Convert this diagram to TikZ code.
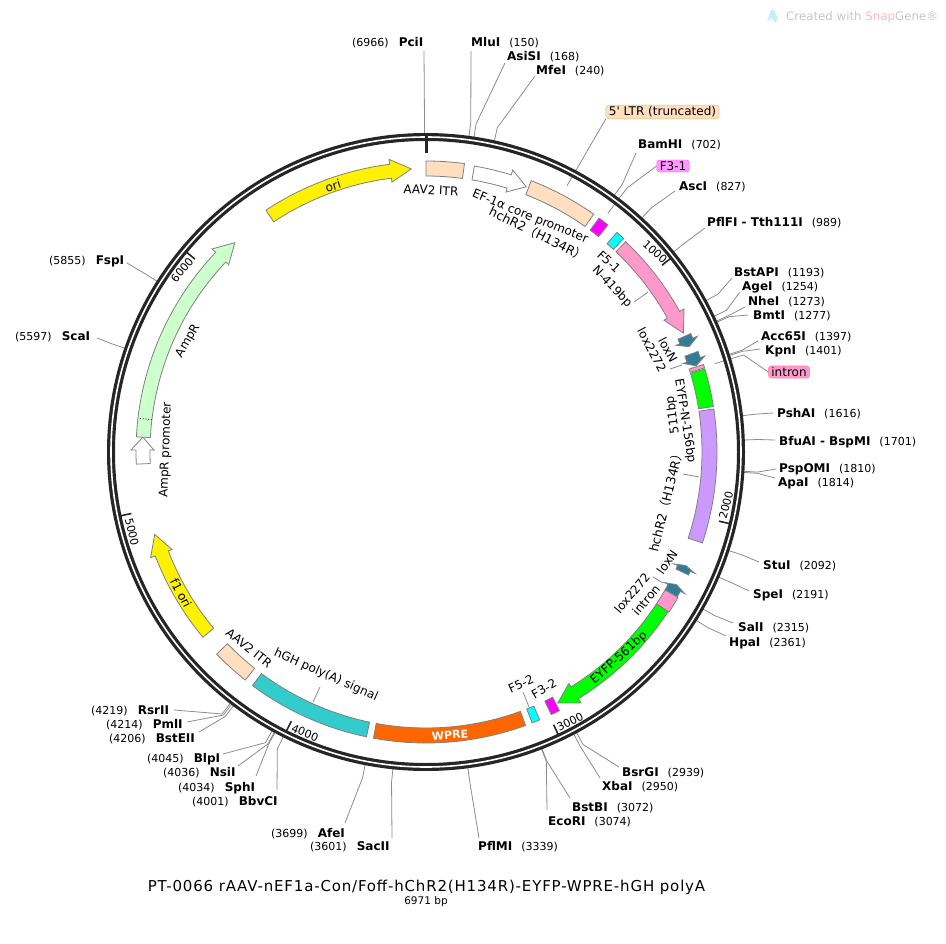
\documentclass[tikz,border=0pt]{standalone}
\usepackage{fontspec}
\usepackage{xcolor}
\setmainfont{DejaVu Sans}
\newfontfamily\cjk{Noto Sans CJK SC}
\newfontfamily\straight{DejaVu Sans}

\definecolor{peach}{HTML}{FFDFBF}
\definecolor{magentafeat}{HTML}{FF00FF}
\definecolor{cyanfeat}{HTML}{00FFFF}
\definecolor{pinkfeat}{HTML}{FF99CC}
\definecolor{greenfeat}{HTML}{00FF00}
\definecolor{purplefeat}{HTML}{CC99FF}
\definecolor{loxteal}{HTML}{317D97}
\definecolor{polyteal}{HTML}{33CCCC}
\definecolor{wpreorange}{HTML}{FF6600}
\definecolor{ampgreen}{HTML}{CCFFCC}
\definecolor{ringgray}{HTML}{262626}

\tikzset{
    sitelabel/.style={anchor=west, inner sep=0pt, font=\fontsize{11}{13}\selectfont},
    featlabel/.style={inner sep=0pt, font=\fontsize{12}{14}\selectfont},
    widelabel/.style={inner sep=0pt, font=\fontsize{12.5}{14}\selectfont},
    leader/.style={draw=black!45, line width=0.8pt},
    featline/.style={draw=black!50, line width=0.8pt},
    ticklabel/.style={inner sep=0pt, font=\fontsize{11}{13}\selectfont},
    tagbox/.style={draw, rounded corners=3pt, inner xsep=3pt, inner ysep=1.5pt, font=\fontsize{12}{14}\selectfont}
}

% bold enzyme name
\newcommand{\enz}[1]{{\fontsize{12}{13}\bfseries\selectfont #1}}
% enzyme site: id, x, y, text, angle, free end of the leader
\newcommand{\site}[6]{
    \node[sitelabel] (#1) at (#2,-#3) {#4};
    \coordinate (#1-ring) at ([shift={({90-#5}:316)}]c);
    \coordinate (#1-bend) at ([shift={({90-#5}:332)}]c);
    \coordinate (#1-end) at #6;
    \draw[leader] (#1-ring) -- (#1-bend) -- (#1-end);
}
% plain block: colour, from angle, to angle
\newcommand{\block}[3]{
    \draw[featline, fill=#1] ({90-#2}:276) arc[start angle={90-#2}, end angle={90-#3}, radius=276]
        -- ({90-#3}:291) arc[start angle={90-#3}, end angle={90-#2}, radius=291] -- cycle;
}
% arrow: colour, tail, head base, tip
\newcommand{\pointer}[4]{
    \draw[featline, fill=#1] ({90-#2}:276) arc[start angle={90-#2}, end angle={90-#3}, radius=276]
        -- ({90-#3}:272) -- ({90-#4}:283.5) -- ({90-#3}:295) -- ({90-#3}:290)
        arc[start angle={90-#3}, end angle={90-#2}, radius=290] -- cycle;
}
% scale mark: angle
\newcommand{\scalemark}[1]{
    \draw[ringgray, line width=1.6pt] ({90-#1}:312) -- ({90-#1}:301);
}

\begin{document}
\begin{tikzpicture}[x=1pt, y=1pt]
    \useasboundingbox (0,0) rectangle (946,-944);
    \coordinate (c) at (426,-452);

    % enzyme sites, clockwise from the top
    \site{pciI}{352}{43}{(6966)\hspace{10pt}\enz{PciI}}{359.74}{(424,-51)}
    \site{mluI}{471}{43}{\enz{MluI}\hspace{9pt}(150)}{7.75}{(471,-51)}
    \site{asiSI}{507}{57}{\enz{AsiSI}\hspace{9pt}(168)}{8.68}{(505,-63)}
    \site{mfeI}{536}{71}{\enz{MfeI}\hspace{9pt}(240)}{12.4}{(535,-76)}
    \site{bamHI}{638}{145}{\enz{BamHI}\hspace{9pt}(702)}{36.25}{(636,-153)}
    \site{ascI}{679}{187}{\enz{AscI}\hspace{9pt}(827)}{42.7}{(675,-191)}
    \site{tth}{707}{223}{\enz{PflFI - Tth111I}\hspace{9pt}(989)}{51.07}{(705,-228)}
    \site{bstAPI}{734}{273}{\enz{BstAPI}\hspace{9pt}(1193)}{61.6}{(732,-278)}
    \site{ageI}{742}{287}{\enz{AgeI}\hspace{9pt}(1254)}{64.76}{(740,-292)}
    \site{nheI}{748}{302}{\enz{NheI}\hspace{9pt}(1273)}{65.74}{(745,-307)}
    \site{bmtI}{753}{316}{\enz{BmtI}\hspace{9pt}(1277)}{65.95}{(748,-315)}
    \site{accI}{761}{337}{\enz{Acc65I}\hspace{9pt}(1397)}{72.15}{(758,-341)}
    \site{kpnI}{765}{351}{\enz{KpnI}\hspace{9pt}(1401)}{72.35}{(760,-349)}
    \site{pshAI}{777}{414}{\enz{PshAI}\hspace{9pt}(1616)}{83.45}{(773,-413)}
    \site{bfuAI}{779}{442}{\enz{BfuAI - BspMI}\hspace{9pt}(1701)}{87.84}{(775,-440)}
    \site{pspOMI}{779}{469}{\enz{PspOMI}\hspace{9pt}(1810)}{93.47}{(776,-469)}
    \site{apaI}{778}{483}{\enz{ApaI}\hspace{9pt}(1814)}{93.68}{(775,-478)}
    \site{stuI}{763}{566}{\enz{StuI}\hspace{9pt}(2092)}{108.04}{(759,-562)}
    \site{speI}{753}{595}{\enz{SpeI}\hspace{9pt}(2191)}{113.15}{(749,-591)}
    \site{salI}{738}{628}{\enz{SalI}\hspace{9pt}(2315)}{119.55}{(733,-623)}
    \site{hpaI}{729}{643}{\enz{HpaI}\hspace{9pt}(2361)}{121.93}{(726,-636)}
    \site{bsrGI}{622}{773}{\enz{BsrGI}\hspace{9pt}(2939)}{151.78}{(619,-767)}
    \site{xbaI}{602}{787}{\enz{XbaI}\hspace{9pt}(2950)}{152.35}{(600,-778)}
    \site{bstBI}{572}{808}{\enz{BstBI}\hspace{9pt}(3072)}{158.65}{(570,-798)}
    \site{ecoRI}{548}{822}{\enz{EcoRI}\hspace{9pt}(3074)}{158.75}{(547,-810)}
    \site{pflMI}{478}{847}{\enz{PflMI}\hspace{9pt}(3339)}{172.44}{(479,-838)}
    \site{sacII}{310}{847}{(3601)\hspace{10pt}\enz{SacII}}{185.96}{(392,-838)}
    \site{afeI}{271}{834}{(3699)\hspace{10pt}\enz{AfeI}}{191.02}{(345,-823)}
    \site{bbvCI}{192}{802}{(4001)\hspace{10pt}\enz{BbvCI}}{206.6}{(277,-790)}
    \site{sphI}{178}{788}{(4034)\hspace{10pt}\enz{SphI}}{208.3}{(256,-776)}
    \site{nsiI}{163}{773}{(4036)\hspace{10pt}\enz{NsiI}}{208.43}{(238,-766)}
    \site{blpI}{147}{759}{(4045)\hspace{10pt}\enz{BlpI}}{208.9}{(223,-754)}
    \site{bstEII}{109}{739}{(4206)\hspace{10pt}\enz{BstEII}}{217.2}{(199,-732)}
    \site{pmlI}{106}{725}{(4214)\hspace{10pt}\enz{PmlI}}{217.6}{(187,-722)}
    \site{rsrII}{91}{711}{(4219)\hspace{10pt}\enz{RsrII}}{217.9}{(174,-710)}
    \site{scaI}{15}{337}{(5597)\hspace{10pt}\enz{ScaI}}{289}{(97,-338)}
    \site{fspI}{49}{261}{(5855)\hspace{10pt}\enz{FspI}}{302.4}{(127,-263)}

    % tags that sit outside the ring
    \node[tagbox, draw=orange!60!brown!60, fill=peach] (ltrtag) at (662.5,-112) {\straight 5' LTR (truncated)};
    \node[tagbox, draw=magentafeat!70, fill=magentafeat!40] (f3tag) at (673,-166) {F3-1};
    \node[tagbox, draw=pinkfeat!80!red, fill=pinkfeat] (introntag) at (789,-372) {intron};
    \coordinate (ltr-in) at ([shift={({90-27.9}:301)}]c);
    \coordinate (f3-in) at ([shift={({90-37.3}:300)}]c);
    \coordinate (f3-bend) at ([shift={({90-37.3}:332)}]c);
    \coordinate (intron-in) at ([shift={({90-73}:302)}]c);
    \coordinate (intron-bend) at ([shift={({90-73}:332)}]c);
    \draw[leader] (ltr-in) -- (ltrtag.south west);
    \draw[leader] (f3-in) -- (f3-bend) -- (f3tag.west);
    \draw[leader] (intron-in) -- (intron-bend) -- (introntag.west);

    % ring
    \draw[ringgray, line width=8pt] (c) circle (315);
    \draw[white, line width=1.6pt] (c) circle (315);

    \begin{scope}[shift={(c)}]
        \draw[ringgray, line width=3pt] (90:319) -- (90:299);
        \scalemark{51.64}
        \scalemark{103.28}
        \scalemark{154.93}
        \scalemark{206.57}
        \scalemark{258.2}
        \scalemark{309.85}

        \pointer{yellow}{326.5}{352.8}{357}
        \block{peach}{0}{7.6}
        \pointer{white}{9.6}{17.1}{20.7}
        \block{peach}{21.2}{35.2}
        \block{magentafeat}{36.5}{38.7}
        \block{cyanfeat}{41}{42.8}
        \pointer{pinkfeat}{43.5}{61}{65.2}
        \pointer{loxteal}{65.9}{66.9}{68.2}
        \pointer{loxteal}{69.7}{71}{72.3}
        \block{pinkfeat}{72.5}{73.2}
        \block{greenfeat}{73.4}{81}
        \block{purplefeat}{81.5}{108.2}
        \pointer{loxteal}{115.1}{114.3}{113.6}
        \pointer{loxteal}{120}{118.7}{117.9}
        \block{pinkfeat}{120}{123.4}
        \pointer{greenfeat}{123.4}{148.3}{152.3}
        \block{magentafeat}{152.7}{154.5}
        \block{cyanfeat}{157}{158.6}
        \block{wpreorange}{160}{190.4}
        \block{polyteal}{191.8}{216.6}
        \block{peach}{218.4}{226}
        \pointer{yellow}{230.3}{249}{253.1}
        \pointer{white}{267.6}{270.4}{273}
        \pointer{ampgreen}{273}{313.5}{317.6}
        \draw[dotted, line width=0.8pt] ({90-276.7}:276) -- ({90-276.7}:290);
    \end{scope}

    % scale numbers
    \node[ticklabel, rotate=-42] (n1000) at (655,-252) {1000};
    \node[ticklabel, rotate=75] (n2000) at (726,-505) {2000};
    \node[ticklabel, rotate=27] (n3000) at (570,-722) {3000};
    \node[ticklabel, rotate=-23] (n4000) at (305,-733) {4000};
    \node[ticklabel, rotate=-77] (n5000) at (132,-532) {5000};
    \node[ticklabel, rotate=50] (n6000) at (182,-270) {6000};

    % feature names
    \node[featlabel, rotate=-22] (efcore) at (530,-217) {EF-1α core promoter};
    \node[featlabel, rotate=-3] (itrtop) at (431,-190) {AAV2 ITR};
    \node[widelabel, rotate=-26] (hchtop) at (538,-234) {hchR2{\cjk （}H134R{\cjk ）}};
    \node[featlabel, rotate=-43] (f5one) at (609,-262) {F5-1};
    \node[featlabel, rotate=-46] (n419) at (612,-287) {N-419bp};
    \node[featlabel, rotate=-62] (loxntop) at (668,-350) {loxN};
    \node[featlabel, rotate=-62] (loxtop) at (652,-350) {lox2272};
    \node[featlabel, rotate=-81] (eyfpn) at (685,-421) {EYFP-N-156bp};
    \node[featlabel, rotate=98] (bp511) at (673,-415) {511bp};
    \node[widelabel, rotate=76] (hchright) at (666,-500) {hchR2{\cjk （}H134R{\cjk ）}};
    \node[featlabel, rotate=55] (loxnlow) at (667,-562) {loxN};
    \node[featlabel, rotate=50] (loxlow) at (632,-593) {lox2272};
    \node[featlabel, rotate=50] (intronlow) at (646,-600) {intron};
    \node[featlabel, rotate=42] (eyfp561) at (619,-658) {EYFP-561bp};
    \node[featlabel, rotate=25] (f5two) at (521,-684) {F5-2};
    \node[featlabel, rotate=30] (f3two) at (544,-689) {F3-2};
    \node[featlabel, rotate=4, text=white, font=\fontsize{11}{14}\bfseries\selectfont] (wpre) at (450,-735) {WPRE};
    \node[featlabel, rotate=-24] (polya) at (326,-675) {hGH poly(A) signal};
    \node[featlabel, rotate=-39] (itrlow) at (249,-648) {AAV2 ITR};
    \node[featlabel, rotate=-62] (flori) at (181,-593) {f1 ori};
    \node[featlabel, rotate=88] (amppro) at (166,-450) {AmpR promoter};
    \node[featlabel, rotate=60] (ampr) at (188,-341) {AmpR};
    \node[featlabel, rotate=17] (ori) at (333,-186) {ori};

    % short ties from names to blocks
    \coordinate (n419-a) at (634,-302);
    \coordinate (n419-b) at (648,-292);
    \draw[leader] (n419-a) -- (n419-b);
    \coordinate (loxtop-a) at (670,-369);
    \coordinate (loxtop-b) at (682,-365);
    \draw[leader] (loxtop-a) -- (loxtop-b);
    \coordinate (hch-a) at (683,-474);
    \coordinate (hch-b) at (699,-477);
    \draw[leader] (hch-a) -- (hch-b);
    \coordinate (loxlow-a) at (653,-577);
    \coordinate (loxlow-b) at (663,-583);
    \draw[leader] (loxlow-a) -- (loxlow-b);
    \coordinate (f5two-a) at (523,-692);
    \coordinate (f5two-b) at (529,-707);
    \draw[leader] (f5two-a) -- (f5two-b);
    \coordinate (polya-a) at (313,-702);
    \coordinate (polya-b) at (320,-687);
    \draw[leader] (polya-a) -- (polya-b);

    % title and stamp
    \node[inner sep=0pt, font=\fontsize{15}{17}\selectfont\addfontfeatures{LetterSpace=5.5}] (title) at (426.5,-887) {PT-0066 rAAV-nEF1a-Con/Foff-hChR2(H134R)-EYFP-WPRE-hGH polyA};
    \node[inner sep=0pt, font=\fontsize{10.5}{13}\selectfont] (size) at (426,-902) {6971 bp};
    \fill[cyan!22] (767,-22) -- (771,-10) -- (774,-10) -- (778,-19) -- (775,-23) -- (772,-18) -- cycle;
    \node[inner sep=0pt, anchor=west, text=black!22, font=\fontsize{11.8}{14}\selectfont] (stamp) at (786,-17) {Created with {\color{red!28}Snap}Gene®};
\end{tikzpicture}
\end{document}
